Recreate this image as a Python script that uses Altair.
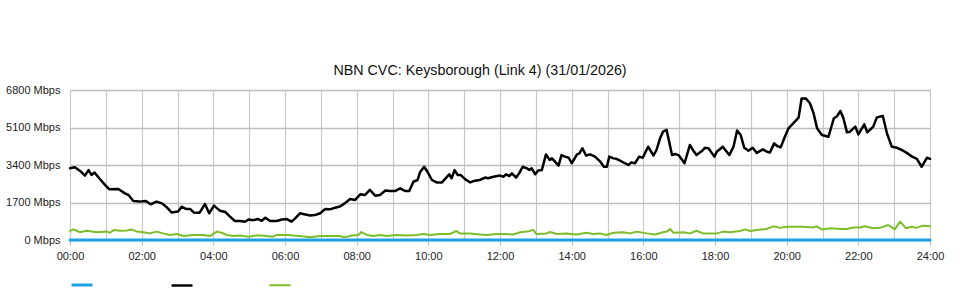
import altair as alt
import pandas as pd

TITLE = "NBN CVC: Keysborough (Link 4) (31/01/2026)"
SERIES = ["Series A", "Series B", "Series C"]
COLORS = ["#1ea0e6", "#000000", "#7cbd2a"]
WIDTHS = [3, 2, 2.5]
Y_TICKS = [0, 1700, 3400, 5100, 6800]

BLUE_TIME = ["00:00", "24:00"]
BLUE_MBPS = [0, 0]

BLACK_TIME = [
    "00:00", "00:08", "00:17", "00:25", "00:31", "00:36", "00:41", "00:50", "00:59", "01:06",
    "01:21", "01:32", "01:38", "01:46", "01:57", "02:07", "02:15", "02:25", "02:34", "02:41",
    "02:50", "03:01", "03:07", "03:14", "03:21", "03:27", "03:37", "03:46", "03:53", "04:01",
    "04:11", "04:20", "04:28", "04:36", "04:45", "04:53", "04:59", "05:07", "05:15", "05:21",
    "05:27", "05:35", "05:46", "05:55", "06:03", "06:11", "06:17", "06:25", "06:34", "06:42",
    "06:50", "06:59", "07:07", "07:15", "07:24", "07:32", "07:40", "07:49", "07:57", "08:06",
    "08:14", "08:22", "08:31", "08:39", "08:48", "08:56", "09:04", "09:13", "09:21", "09:28",
    "09:35", "09:42", "09:46", "09:53", "09:59", "10:06", "10:14", "10:23", "10:30", "10:35",
    "10:39", "10:44", "10:49", "10:54", "11:01", "11:10", "11:18", "11:26", "11:35", "11:40",
    "11:49", "12:00", "12:06", "12:10", "12:16", "12:20", "12:27", "12:32", "12:38", "12:45",
    "12:49", "12:53", "12:59", "13:04", "13:10", "13:17", "13:23", "13:27", "13:32", "13:38",
    "13:43", "13:49", "13:55", "14:00", "14:09", "14:13", "14:18", "14:24", "14:31", "14:39",
    "14:48", "14:54", "14:59", "15:03", "15:10", "15:15", "15:21", "15:29", "15:35", "15:40",
    "15:46", "15:53", "15:59", "16:08", "16:17", "16:22", "16:28", "16:33", "16:39", "16:48",
    "16:53", "16:59", "17:09", "17:18", "17:23", "17:29", "17:38", "17:43", "17:49", "17:59",
    "18:03", "18:13", "18:24", "18:31", "18:37", "18:43", "18:49", "18:56", "19:03", "19:10",
    "19:20", "19:27", "19:32", "19:39", "19:44", "19:50", "19:57", "20:03", "20:11", "20:20",
    "20:25", "20:32", "20:39", "20:45", "20:51", "20:59", "21:10", "21:19", "21:24", "21:30",
    "21:35", "21:41", "21:46", "21:55", "22:00", "22:10", "22:15", "22:25", "22:31", "22:41",
    "22:48", "22:56", "23:05", "23:13", "23:21", "23:30", "23:38", "23:46", "23:55", "24:00",
]
BLACK_MBPS = [
    3250, 3300, 3130, 2915, 3170, 2950, 3060, 2765, 2490, 2300,
    2310, 2115, 2040, 1770, 1740, 1770, 1620, 1740, 1660, 1510,
    1250, 1290, 1510, 1410, 1410, 1250, 1240, 1630, 1210, 1560,
    1330, 1270, 1060, 860, 860, 830, 930, 900, 950, 870,
    1010, 860, 860, 930, 950, 830, 980, 1210, 1160, 1110,
    1130, 1210, 1400, 1390, 1460, 1520, 1660, 1860, 1810, 2070,
    2040, 2270, 2010, 2040, 2240, 2220, 2220, 2340, 2220, 2220,
    2640, 2720, 3070, 3320, 3070, 2720, 2610, 2610, 2830, 2980,
    2800, 3170, 2950, 2950, 2770, 2610, 2690, 2720, 2830, 2800,
    2870, 2920, 2870, 2980, 2900, 3020, 2830, 3020, 3320, 3250,
    3170, 3250, 2980, 3150, 3170, 3880, 3630, 3700, 3550, 3370,
    3850, 3780, 3730, 3480, 3880, 3930, 4160, 3830, 3880, 3780,
    3550, 3320, 3320, 3780, 3700, 3680, 3600, 3480, 3400, 3520,
    3480, 3780, 3730, 4230, 3830, 4080, 4610, 4910, 4990, 3850,
    3900, 3850, 3480, 4310, 4080, 3850, 4030, 4180, 4160, 3780,
    4000, 4230, 3850, 4230, 4960, 4760, 4180, 4050, 4180, 3950,
    4110, 4000, 3970, 4380, 4260, 4200, 4680, 5060, 5290, 5550,
    6420, 6420, 6200, 5750, 5060, 4760, 4680, 5520, 5600, 5850,
    5520, 4880, 4910, 5140, 4790, 5240, 4880, 5140, 5560, 5620,
    4830, 4230, 4180, 4080, 3950, 3780, 3680, 3320, 3730, 3680,
]

GREEN_TIME = [
    "00:00", "00:06", "00:17", "00:28", "00:45", "01:01", "01:07", "01:13", "01:24", "01:35",
    "01:43", "01:52", "02:03", "02:14", "02:25", "02:36", "02:47", "02:59", "03:10", "03:26",
    "03:43", "03:54", "04:06", "04:14", "04:22", "04:33", "04:45", "04:59", "05:13", "05:29",
    "05:40", "05:46", "06:03", "06:14", "06:25", "06:42", "06:59", "07:15", "07:32", "07:40",
    "07:52", "08:03", "08:08", "08:17", "08:28", "08:39", "08:50", "09:07", "09:24", "09:40",
    "09:52", "10:03", "10:20", "10:36", "10:47", "10:53", "11:10", "11:26", "11:38", "11:54",
    "12:11", "12:22", "12:34", "12:45", "12:56", "13:01", "13:18", "13:24", "13:35", "13:51",
    "14:08", "14:25", "14:36", "14:47", "14:58", "15:10", "15:26", "15:38", "15:49", "16:06",
    "16:20", "16:33", "16:39", "16:45", "16:50", "17:07", "17:18", "17:29", "17:40", "18:03",
    "18:14", "18:25", "18:42", "18:50", "18:59", "19:10", "19:26", "19:38", "19:49", "20:00",
    "20:17", "20:28", "20:44", "20:50", "20:59", "21:13", "21:30", "21:40", "21:52", "22:03",
    "22:11", "22:25", "22:36", "22:50", "23:01", "23:10", "23:20", "23:29", "23:37", "23:48",
    "24:00",
]
GREEN_MBPS = [
    410, 480, 350, 420, 350, 380, 330, 450, 420, 430,
    480, 380, 350, 300, 380, 300, 230, 270, 180, 230,
    230, 180, 380, 330, 230, 180, 200, 150, 210, 180,
    150, 230, 230, 200, 180, 120, 180, 180, 180, 120,
    200, 230, 360, 230, 180, 230, 180, 230, 200, 230,
    270, 230, 270, 270, 410, 300, 300, 250, 230, 270,
    270, 250, 350, 380, 450, 270, 300, 360, 270, 300,
    250, 330, 270, 300, 230, 330, 350, 300, 380, 300,
    250, 350, 380, 500, 330, 350, 300, 420, 300, 300,
    380, 350, 410, 480, 410, 450, 500, 620, 550, 600,
    600, 600, 570, 620, 480, 530, 500, 500, 570, 570,
    620, 530, 550, 680, 480, 830, 530, 600, 550, 650,
    620,
]


def to_hours(t):
    h, m = t.split(":")
    return int(h) + int(m) / 60.0


rows = []
for name, times, vals in [
    (SERIES[0], BLUE_TIME, BLUE_MBPS),
    (SERIES[1], BLACK_TIME, BLACK_MBPS),
    (SERIES[2], GREEN_TIME, GREEN_MBPS),
]:
    for t, v in zip(times, vals):
        rows.append({"series": name, "hour": to_hours(t), "mbps": v})
df = pd.DataFrame(rows)

FONT = "Liberation Sans"

x_axis = alt.Axis(
    values=list(range(25)),
    labelExpr="datum.value % 2 == 0 ? ((datum.value < 10 ? '0' : '') + datum.value + ':00') : ''",
    grid=True,
    gridColor="#c8c8c8",
    gridWidth=1.2,
    domain=False,
    ticks=True,
    tickSize=5,
    tickColor="#c0c0c0",
    tickWidth=1.2,
    tickOpacity={"condition": {"test": "datum.value % 2 == 0", "value": 1}, "value": 0},
    labelFont=FONT,
    labelFontSize=11,
    labelColor="#222222",
    labelPadding=5,
    labelOverlap=False,
    labelFlush=False,
    title=None,
)

y_axis = alt.Axis(
    values=Y_TICKS,
    labelExpr="datum.value + ' Mbps'",
    grid=True,
    gridColor="#bdbdbd",
    gridWidth=1.6,
    domain=False,
    ticks=False,
    labelFont=FONT,
    labelFontSize=11,
    labelColor="#222222",
    labelPadding=10,
    title=None,
)

chart = (
    alt.Chart(df)
    .mark_line(strokeJoin="round", strokeCap="round")
    .encode(
        x=alt.X("hour:Q", scale=alt.Scale(domain=[0, 24], nice=False, zero=False), axis=x_axis),
        y=alt.Y("mbps:Q", scale=alt.Scale(domain=[0, 6800], nice=False), axis=y_axis),
        color=alt.Color(
            "series:N",
            scale=alt.Scale(domain=SERIES, range=COLORS),
            sort=SERIES,
            legend=alt.Legend(
                orient="none",
                legendX=0,
                legendY=183,
                direction="horizontal",
                columns=3,
                title=None,
                symbolType="stroke",
                symbolSize=441,
                symbolStrokeWidth=3,
                labelExpr="''",
                labelOffset=0,
                columnPadding=67,
            ),
        ),
        strokeWidth=alt.StrokeWidth(
            "series:N", scale=alt.Scale(domain=SERIES, range=WIDTHS), legend=None
        ),
        order=alt.Order("hour:Q"),
    )
    .properties(
        width=860,
        height=150,
        title=alt.Title(
            TITLE,
            anchor="middle",
            frame="group",
            dx=-20,
            offset=6,
            font=FONT,
            fontSize=14.3,
            fontWeight="normal",
            color="#111111",
        ),
        autosize=alt.AutoSizeParams(type="none"),
        padding={"left": 70, "top": 90, "right": 30, "bottom": 60},
    )
    .configure_view(stroke=None)
    .configure(background="white")
)

chart.save("out.html", embed_options={"renderer": "svg", "actions": False})
